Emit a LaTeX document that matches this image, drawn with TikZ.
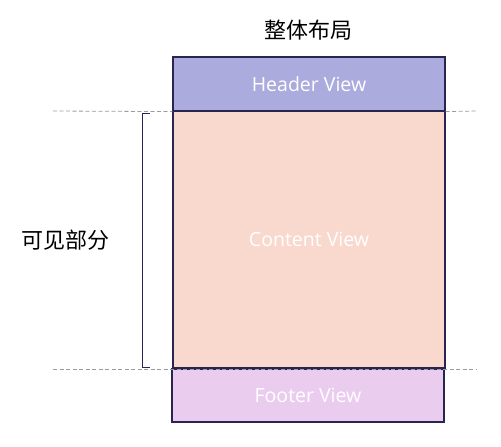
\documentclass[tikz,border=0pt]{standalone}
\usepackage{fontspec}
\setmainfont{Open Sans}
\newfontfamily\cjk{Noto Sans CJK SC}
\definecolor{hdr}{HTML}{ABABDD}
\definecolor{cnt}{HTML}{F9D8CD}
\definecolor{ftr}{HTML}{EACCEF}
\definecolor{edge}{HTML}{2A2550}
\definecolor{dash}{HTML}{9A9AA6}
\begin{document}
\begin{tikzpicture}[x=1pt,y=-1pt,
  box/.style={draw=edge,line width=1.2pt,inner sep=0pt,font=\fontsize{19.5}{22}\selectfont,text=white},
  guide/.style={draw=dash,dashed,line width=0.8pt,dash pattern=on 4pt off 2.5pt},
  cjklabel/.style={font=\cjk\fontsize{22}{26}\selectfont,text=black}]
\useasboundingbox (0,0) rectangle (501,447);
\node[box,fill=cnt,minimum width=272pt,minimum height=257pt] (content) at (309,239.5) {Content View};
\node[box,fill=hdr,minimum width=272pt,minimum height=54pt] (header) at (309,84) {Header View};
\node[box,fill=ftr,minimum width=272pt,minimum height=53pt] (footer) at (308,395.5) {Footer View};
\node[cjklabel] (title) at (308,30) {整体布局};
\node[cjklabel] (vis) at (65,240) {可见部分};
\coordinate (t1) at (53,111);
\coordinate (t2) at (477,111);
\coordinate (b1) at (53,369);
\coordinate (b2) at (477,369);
\draw[guide] (t1) -- (header.south west);
\draw[guide] (header.south east) -- (t2);
\draw[guide] (b1) -- (b2);
\coordinate (br1) at (150,113);
\coordinate (br2) at (150,367);
\draw[edge,line width=1pt] (br1) -- ++(-8,0) |- (br2);
\end{tikzpicture}
\end{document}
